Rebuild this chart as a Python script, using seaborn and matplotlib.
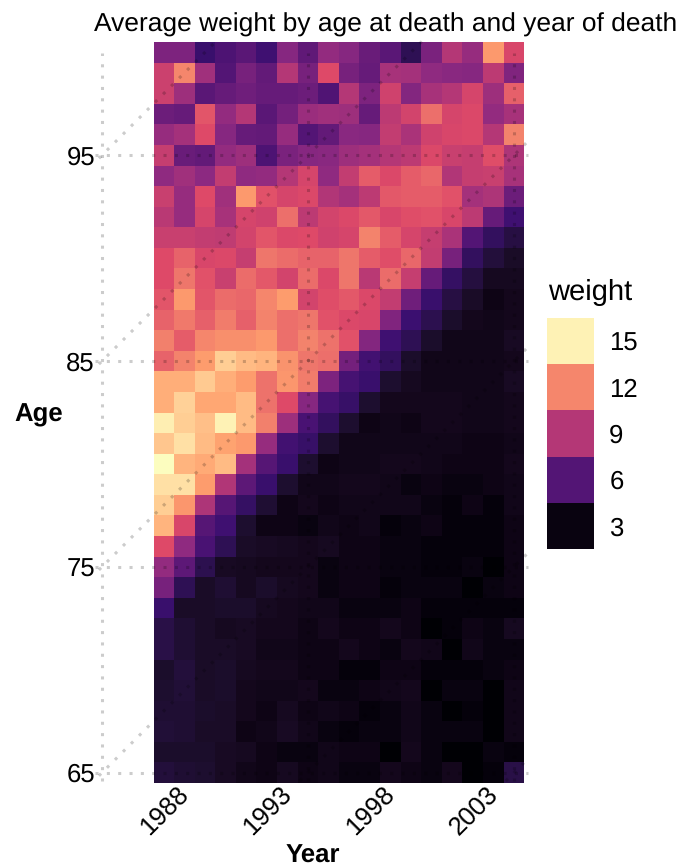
import numpy as np
import pandas as pd
import seaborn as sns
import matplotlib.pyplot as plt
from matplotlib.colors import ListedColormap, to_rgb
from matplotlib.transforms import ScaledTranslation

# Data, one list per age at death
years = list(range(1987, 2005))
ages = list(range(65, 101))

age_100 = [7.3, 7.3, 5.2, 5.8, 6.2, 5.4, 7.6, 6.4, 8.0, 7.6, 6.7, 6.2, 4.7, 7.2, 9.0, 8.1, 12.6, 10.1]
age_99 = [9.7, 12.0, 8.4, 6.0, 7.1, 6.5, 9.0, 7.1, 10.3, 7.1, 6.6, 8.6, 8.5, 7.9, 7.7, 7.6, 9.2, 7.4]
age_98 = [9.7, 8.3, 6.2, 6.6, 6.9, 6.6, 6.6, 6.8, 5.9, 9.0, 7.3, 9.8, 7.5, 8.6, 9.0, 10.0, 8.3, 10.9]
age_97 = [6.8, 6.6, 10.6, 8.0, 9.0, 6.2, 7.0, 8.2, 8.4, 8.3, 6.6, 9.2, 9.9, 11.3, 10.0, 10.2, 8.0, 8.6]
age_96 = [8.1, 8.5, 10.3, 7.6, 6.6, 6.5, 8.1, 6.0, 6.5, 7.7, 7.6, 9.4, 8.7, 9.8, 10.1, 10.2, 9.0, 11.9]
age_95 = [9.5, 6.7, 6.5, 8.0, 8.3, 5.8, 7.2, 7.6, 7.7, 8.3, 8.5, 9.0, 9.2, 10.2, 9.6, 9.5, 10.4, 8.8]
age_94 = [7.9, 8.4, 7.8, 9.4, 7.9, 8.0, 9.0, 10.0, 7.9, 9.4, 10.8, 10.2, 10.8, 11.1, 8.9, 9.5, 9.6, 8.6]
age_93 = [9.6, 8.1, 10.3, 8.4, 12.6, 10.5, 10.0, 10.2, 8.9, 8.5, 9.2, 10.7, 10.8, 10.8, 10.5, 8.5, 8.8, 6.8]
age_92 = [9.1, 8.1, 10.0, 8.6, 10.0, 9.8, 11.3, 9.2, 9.9, 10.2, 10.7, 10.1, 10.4, 10.5, 10.1, 9.2, 6.6, 5.4]
age_91 = [9.6, 9.6, 9.4, 9.3, 9.9, 10.6, 10.2, 10.3, 9.8, 10.0, 11.9, 10.8, 10.0, 9.5, 8.7, 6.0, 4.9, 4.3]
age_90 = [10.3, 11.0, 10.1, 10.2, 9.5, 11.5, 11.2, 11.0, 11.0, 11.5, 10.8, 10.4, 11.1, 9.4, 7.1, 4.9, 4.1, 3.6]
age_89 = [10.3, 11.5, 10.5, 9.6, 11.2, 10.7, 9.9, 11.2, 10.2, 11.5, 9.1, 11.2, 9.5, 6.6, 5.0, 4.2, 3.4, 3.4]
age_88 = [10.6, 12.6, 10.6, 11.2, 11.1, 12.0, 12.7, 9.9, 10.4, 10.7, 10.2, 9.4, 6.9, 5.2, 4.3, 3.6, 3.1, 3.3]
age_87 = [11.0, 11.6, 10.9, 11.7, 10.9, 11.9, 11.3, 11.5, 10.5, 10.2, 10.1, 7.4, 5.3, 4.6, 3.7, 3.3, 3.2, 3.3]
age_86 = [11.8, 10.8, 12.0, 12.3, 12.3, 12.6, 11.3, 11.9, 11.4, 10.5, 7.5, 5.4, 4.7, 3.7, 3.2, 3.2, 3.2, 3.5]
age_85 = [11.0, 11.9, 12.7, 14.0, 13.5, 13.3, 12.4, 11.5, 11.3, 7.0, 5.5, 4.9, 3.7, 3.2, 3.2, 3.2, 3.2, 3.3]
age_84 = [13.2, 13.2, 13.9, 13.2, 12.7, 11.4, 12.5, 11.7, 7.3, 5.6, 5.2, 3.8, 3.4, 3.2, 3.2, 3.2, 3.2, 3.5]
age_83 = [13.2, 14.1, 13.0, 13.0, 13.5, 11.4, 10.3, 7.6, 5.6, 5.1, 3.8, 3.3, 3.3, 3.3, 3.3, 3.2, 3.2, 3.3]
age_82 = [14.9, 14.0, 13.6, 15.0, 13.5, 11.8, 8.3, 5.7, 4.9, 3.8, 3.1, 3.2, 3.1, 3.3, 3.3, 3.2, 3.2, 3.3]
age_81 = [13.8, 14.5, 13.5, 12.9, 12.6, 8.1, 5.5, 5.1, 3.8, 3.2, 3.2, 3.2, 3.2, 3.2, 3.2, 3.1, 3.1, 3.2]
age_80 = [15.4, 13.3, 13.1, 13.5, 8.5, 6.1, 5.2, 3.8, 3.1, 3.2, 3.2, 3.3, 3.3, 3.2, 3.1, 3.1, 3.1, 3.3]
age_79 = [14.5, 14.5, 12.7, 8.9, 6.3, 5.2, 3.8, 3.2, 3.2, 3.3, 3.3, 3.2, 3.0, 3.1, 3.0, 3.0, 3.1, 3.2]
age_78 = [14.0, 12.5, 8.8, 6.1, 5.0, 3.9, 3.1, 3.3, 3.1, 3.2, 3.2, 3.2, 3.2, 3.0, 2.9, 3.1, 2.9, 3.2]
age_77 = [13.3, 10.1, 6.1, 5.4, 3.8, 3.1, 3.1, 3.0, 3.2, 3.1, 3.2, 2.9, 3.0, 3.1, 2.9, 2.9, 2.9, 3.1]
age_76 = [10.3, 7.9, 5.7, 4.7, 3.6, 3.5, 3.4, 3.3, 3.4, 3.1, 3.1, 3.0, 3.0, 2.9, 2.9, 2.9, 2.9, 3.1]
age_75 = [8.0, 6.3, 4.6, 3.5, 3.4, 3.3, 3.3, 3.3, 3.0, 3.1, 3.1, 3.0, 3.0, 2.9, 2.9, 3.0, 2.8, 3.1]
age_74 = [7.1, 4.7, 3.6, 3.9, 3.4, 3.7, 3.4, 3.3, 3.0, 3.1, 3.1, 2.9, 3.0, 3.0, 3.0, 2.8, 3.0, 3.1]
age_73 = [5.2, 3.6, 3.6, 3.7, 3.7, 3.4, 3.3, 3.2, 3.2, 3.0, 3.0, 3.0, 3.1, 2.9, 2.9, 2.9, 2.9, 2.9]
age_72 = [4.4, 3.9, 3.6, 3.4, 3.5, 3.3, 3.3, 3.1, 3.3, 3.1, 3.1, 3.3, 3.1, 2.7, 2.9, 3.1, 3.0, 3.4]
age_71 = [4.4, 3.9, 3.6, 3.6, 3.5, 3.2, 3.2, 3.1, 3.1, 3.3, 3.1, 3.0, 3.3, 3.2, 2.8, 3.2, 3.0, 3.0]
age_70 = [3.7, 4.1, 3.6, 3.7, 3.4, 3.3, 3.3, 3.1, 3.1, 2.9, 2.9, 3.1, 3.1, 2.9, 2.9, 2.9, 3.0, 3.1]
age_69 = [3.8, 4.0, 3.6, 3.7, 3.3, 3.2, 3.2, 3.3, 3.0, 3.0, 3.1, 3.2, 3.3, 2.7, 3.0, 3.0, 2.7, 3.2]
age_68 = [3.9, 3.9, 3.7, 3.6, 3.3, 3.1, 3.4, 3.1, 3.2, 3.1, 2.9, 3.0, 3.2, 3.0, 2.7, 2.9, 2.7, 3.2]
age_67 = [4.0, 3.9, 3.6, 3.6, 3.1, 3.2, 3.5, 3.2, 3.0, 2.9, 3.0, 3.0, 3.2, 3.0, 3.0, 3.0, 2.8, 3.2]
age_66 = [3.7, 3.7, 3.7, 3.5, 3.4, 3.1, 3.0, 3.0, 3.2, 3.1, 3.1, 2.7, 3.3, 3.0, 2.8, 2.7, 3.0, 2.9]
age_65 = [4.1, 3.9, 3.8, 3.5, 3.2, 3.1, 3.4, 3.1, 3.2, 3.0, 3.0, 3.3, 3.1, 3.0, 3.3, 2.7, 2.9, 4.4]

rows = [age_65, age_66, age_67, age_68, age_69, age_70, age_71, age_72, age_73,
        age_74, age_75, age_76, age_77, age_78, age_79, age_80, age_81, age_82,
        age_83, age_84, age_85, age_86, age_87, age_88, age_89, age_90, age_91,
        age_92, age_93, age_94, age_95, age_96, age_97, age_98, age_99, age_100]

year_ticks = [1988, 1993, 1998, 2003]
age_ticks = [65, 75, 85, 95]
grid_years = [1984, 1994, 2004]
grid_cohorts = [1889, 1899, 1909, 1919, 1929, 1939]
legend_values = [15, 12, 9, 6, 3]
magma_stops = ['#000004', '#3B0F70', '#8C2981', '#DE4968', '#FE9F6D', '#FCFDBF']

W, H = 685, 867
VMIN, VMAX = 2.8, 15.3
FONT = 'Liberation Sans'
WHITE_XYZ = np.array([0.95047, 1.0, 1.08883])
RGB2XYZ = np.array([[0.4124564, 0.3575761, 0.1804375],
                    [0.2126729, 0.7151522, 0.0721750],
                    [0.0193339, 0.1191920, 0.9503041]])


def rgb_to_lab(rgb):
    rgb = np.asarray(rgb)
    lin = np.where(rgb > 0.04045, ((rgb + 0.055) / 1.055) ** 2.4, rgb / 12.92)
    xyz = lin @ RGB2XYZ.T / WHITE_XYZ
    f = np.where(xyz > 0.008856, np.cbrt(xyz), 7.787 * xyz + 16 / 116)
    return np.stack([116 * f[..., 1] - 16, 500 * (f[..., 0] - f[..., 1]),
                     200 * (f[..., 1] - f[..., 2])], axis=-1)


def lab_to_rgb(lab):
    fy = (lab[..., 0] + 16) / 116
    f = np.stack([fy + lab[..., 1] / 500, fy, fy - lab[..., 2] / 200], axis=-1)
    xyz = np.where(f ** 3 > 0.008856, f ** 3, (f - 16 / 116) / 7.787) * WHITE_XYZ
    lin = np.clip(xyz @ np.linalg.inv(RGB2XYZ).T, 0, 1)
    return np.where(lin > 0.0031308, 1.055 * lin ** (1 / 2.4) - 0.055, 12.92 * lin)


# ggplot style scale : six magma stops blended in Lab
stops_lab = rgb_to_lab([to_rgb(c) for c in magma_stops])
pos = np.linspace(0, 1, 256)
lab_ramp = np.stack([np.interp(pos, np.linspace(0, 1, 6), stops_lab[:, i]) for i in range(3)], axis=-1)
scale = ListedColormap(lab_to_rgb(lab_ramp))


def to_x(year):
    return year - years[0] + 0.5


def to_y(age):
    return age - ages[0] + 0.5


df = pd.DataFrame(rows, index=ages, columns=years)

sns.set_theme(style='white')
plt.rcParams['font.family'] = [FONT, 'DejaVu Sans']
plt.rcParams['text.color'] = 'black'
plt.rcParams['text.hinting'] = 'no_hinting'

fig = plt.figure(figsize=(W / 100, H / 100), dpi=100)
# axes run past the cells on both sides so the grid can stick out
ax = fig.add_axes([95 / W, 1 - 783 / H, (528 - 95) / W, (783 - 42) / H])
sns.heatmap(df, ax=ax, cmap=scale, vmin=VMIN, vmax=VMAX, cbar=False,
            xticklabels=False, yticklabels=False, linewidths=0, rasterized=True)
ax.set_xlim(to_x(1983.66), to_x(2004.68))
ax.set_ylim(0, len(ages))

# Lexis grid : periods, ages and cohorts
grid_kw = dict(color='black', alpha=0.2, lw=2.2, clip_on=False,
               dash_capstyle='butt', legend=False, ax=ax)
dots = (1, 2.71)
for y in grid_years:
    line = pd.DataFrame({'x': [to_x(y), to_x(y)], 'y': [to_y(64.6), to_y(99.95)]})
    sns.lineplot(data=line, x='x', y='y', estimator=None, sort=False,
                 dashes=[dots], style=[0, 0], **grid_kw)
for a in age_ticks:
    line = pd.DataFrame({'x': [to_x(1983.66), to_x(2004.68)], 'y': [to_y(a), to_y(a)]})
    sns.lineplot(data=line, x='x', y='y', estimator=None, sort=False,
                 dashes=[dots], style=[0, 0], **grid_kw)
for c in grid_cohorts:
    start = max(1983.85, 64.6 + c)
    end = min(2004.7, 100.55 + c)
    line = pd.DataFrame({'x': [to_x(start), to_x(end)], 'y': [to_y(start - c), to_y(end - c)]})
    sns.lineplot(data=line, x='x', y='y', estimator=None, sort=False,
                 dashes=[dots], style=[0, 0], **grid_kw)

ax.set_xticks([to_x(y) for y in year_ticks])
ax.set_xticklabels(year_ticks, rotation=45, ha='right', va='top', rotation_mode='anchor',
                   fontsize=18.5, color='black')
ax.set_yticks([to_y(a) for a in age_ticks])
ax.set_yticklabels(age_ticks, fontsize=18.5, color='black')
ax.tick_params(axis='both', length=0, pad=0)
ax.tick_params(axis='x', pad=-1)
# labels sit a little left of their cells
shift = ScaledTranslation(-8 / 100, 0, fig.dpi_scale_trans)
for lab in ax.get_xticklabels():
    lab.set_transform(lab.get_transform() + shift)
ax.set_xlabel('')
ax.set_ylabel('')

fig.text(313 / W, 1 - 856 / H, 'Year', fontsize=18.5, fontweight='bold', ha='center', va='center')
fig.text(39 / W, 1 - 415 / H, 'Age', fontsize=18.5, fontweight='bold', ha='center', va='center')
fig.text(94 / W, 1 - 25 / H, 'Average weight by age at death and year of death', fontsize=19,
         ha='left', va='center')

# Legend as a small heatmap so the swatches share the colour scale
lax = fig.add_axes([547 / W, 1 - 549 / H, 47 / W, 231 / H])
sns.heatmap(np.array(legend_values).reshape(-1, 1), ax=lax, cmap=scale, vmin=VMIN, vmax=VMAX,
            cbar=False, xticklabels=False, yticklabels=legend_values, linewidths=0)
lax.yaxis.tick_right()
lax.tick_params(axis='y', length=0, pad=11, labelrotation=0, labelsize=18.5, labelcolor='black')
fig.text(548 / W, 1 - 292 / H, 'weight', fontsize=21, ha='left', va='center')

fig.savefig('out.png', dpi=100, facecolor='white')
